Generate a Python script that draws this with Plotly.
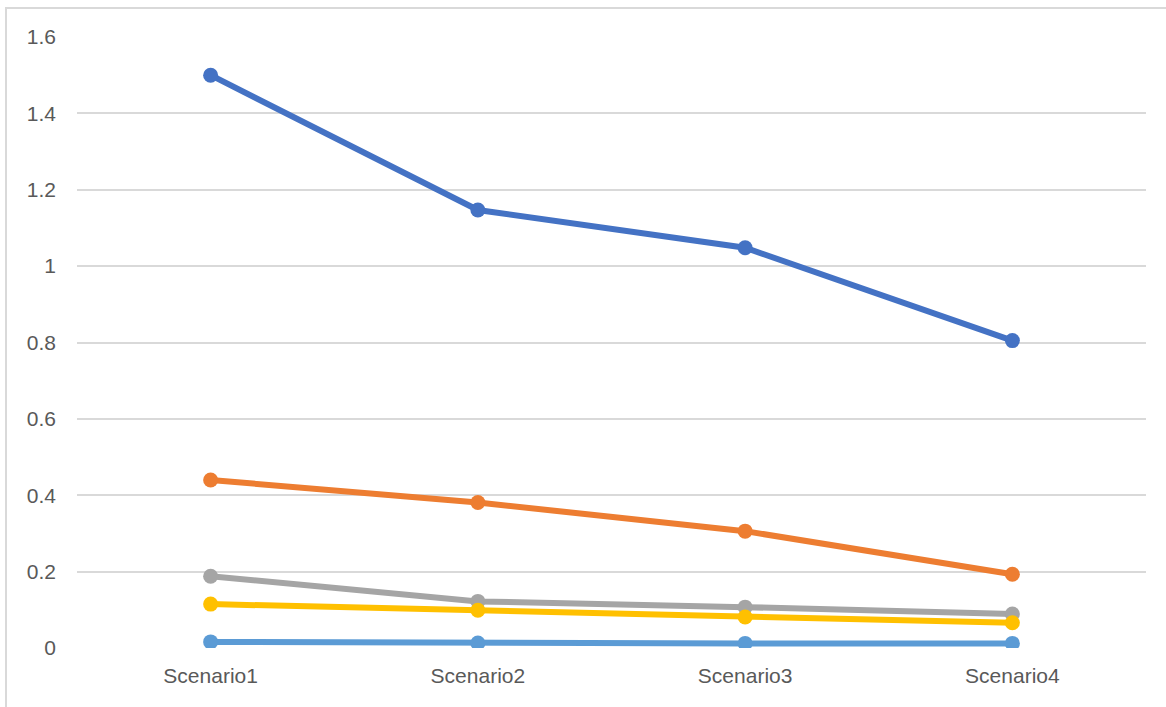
import plotly.graph_objects as go

categories = ["Scenario1", "Scenario2", "Scenario3", "Scenario4"]
series1 = [1.50, 1.147, 1.048, 0.805]
series2 = [0.44, 0.381, 0.306, 0.193]
series3 = [0.188, 0.122, 0.107, 0.089]
series4 = [0.115, 0.099, 0.081, 0.066]
series5 = [0.016, 0.013, 0.012, 0.012]
colors = ["#4472C4", "#ED7D31", "#A5A5A5", "#FFC000", "#5B9BD5"]
names = ["Series1", "Series2", "Series3", "Series4", "Series5"]
y_ticks = [0, 0.2, 0.4, 0.6, 0.8, 1.0, 1.2, 1.4, 1.6]
y_ticktext = ["0", "0.2", "0.4", "0.6", "0.8", "1", "1.2", "1.4", "1.6"]

fig = go.Figure()
for name, vals, col in zip(names, [series1, series2, series3, series4, series5], colors):
    fig.add_trace(go.Scatter(
        x=categories, y=vals, name=name, mode="lines+markers",
        line=dict(color=col, width=6),
        marker=dict(color=col, size=15),
    ))

W, H = 1166, 707
L, R, T, B = 77, 20, 37, 59
pw, ph = W - L - R, H - T - B

fig.update_layout(
    width=W, height=H,
    margin=dict(l=L, r=R, t=T, b=B),
    paper_bgcolor="white", plot_bgcolor="white",
    showlegend=False,
    font=dict(family="Liberation Sans, Arial, sans-serif", size=21, color="#595959"),
    xaxis=dict(
        type="category", range=[-0.5, len(categories) - 0.5],
        showgrid=False, zeroline=False, showline=False,
        ticklabelstandoff=13,
        tickfont=dict(size=21, color="#595959"),
    ),
    yaxis=dict(
        range=[0, 1.6], tickvals=y_ticks, ticktext=y_ticktext,
        showgrid=True, gridcolor="#D9D9D9", gridwidth=2,
        zeroline=False, showline=False,
        ticklabelstandoff=20,
        tickfont=dict(size=21, color="#595959"),
    ),
    shapes=[dict(
        type="rect", xref="paper", yref="paper",
        x0=(6 - L) / pw, x1=(W + 10 - L) / pw,
        y0=(T + ph - (H + 10)) / ph, y1=(T + ph - 8) / ph,
        line=dict(color="#D9D9D9", width=2), fillcolor="rgba(0,0,0,0)",
        layer="below",
    )],
)

fig.write_html("out.html")
